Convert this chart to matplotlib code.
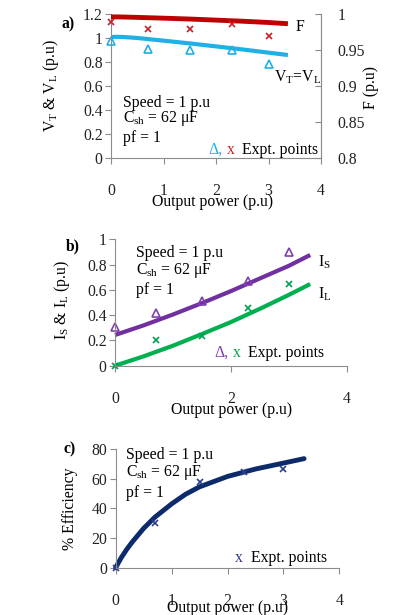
import matplotlib
matplotlib.use("Agg")
import matplotlib.pyplot as plt
from matplotlib.ticker import FormatStrFormatter

plt.rcParams['font.family'] = ['Liberation Serif', 'DejaVu Serif']
plt.rcParams['mathtext.fontset'] = 'custom'
plt.rcParams['mathtext.rm'] = 'Liberation Serif'
plt.rcParams['mathtext.it'] = 'Liberation Serif:italic'
plt.rcParams['font.size'] = 11.3

# ---- data ----
# a) terminal/load voltage and frequency
a_curve_x = [0, 0.1, 0.25, 0.5, 1.0, 1.5, 2.0, 2.5, 3.0, 3.37]
a_vt_curve = [1.008, 1.01, 1.008, 1.0, 0.978, 0.955, 0.93, 0.905, 0.878, 0.858]
a_f_curve = [0.996, 0.996, 0.9958, 0.9953, 0.9942, 0.993, 0.9915, 0.99, 0.9882, 0.9865]
expt_x = [0, 0.7, 1.5, 2.3, 3.0]
a_vt_expt = [0.977, 0.908, 0.90, 0.90, 0.783]
a_f_expt = [0.989, 0.979, 0.979, 0.986, 0.970]

# b) source and load currents
b_curve_x = [0, 0.5, 1.0, 1.5, 2.0, 2.5, 3.0, 3.37]
b_is_curve = [0.243, 0.32, 0.405, 0.495, 0.59, 0.69, 0.79, 0.876]
b_il_curve = [0.0, 0.075, 0.158, 0.25, 0.345, 0.45, 0.56, 0.646]
b_is_expt = [0.304, 0.42, 0.51, 0.67, 0.90]
b_il_expt = [0.0, 0.203, 0.237, 0.454, 0.646]

# c) efficiency
c_curve_x = [0, 0.05, 0.1, 0.2, 0.3, 0.5, 0.7, 1.0, 1.25, 1.5, 2.0, 2.5, 3.0, 3.37]
c_eff_curve = [0, 3.5, 6.8, 12.5, 17.5, 26.5, 34, 43, 49.5, 54.5, 61.5, 66.5, 70.5, 73.5]
c_eff_expt = [0, 30.3, 58, 64.3, 66.7]

W, H = 397, 615
fig = plt.figure(figsize=(W / 100, H / 100), dpi=100)


def px_axes(l, t, r, b):
    return fig.add_axes([l / W, 1 - b / H, (r - l) / W, (b - t) / H])


def ftext(x, y, s, **kw):
    fig.text(x / W, 1 - y / H, s, va='center', **kw)


GRAY = '#8c8c8c'


def style(ax, right=False):
    ax.spines['top'].set_visible(False)
    ax.spines['right'].set_visible(right)
    for s in ax.spines.values():
        s.set_color(GRAY)
    ax.tick_params(axis='both', colors=GRAY, labelcolor='#222222', length=4, direction='out')
    ax.tick_params(axis='x', pad=14)
    ax.tick_params(axis='y', pad=2)
    ax.yaxis.set_major_formatter(FormatStrFormatter('%g'))
    ax.set_xlim(0, 4)


# ---------- a) ----------
ax1 = px_axes(111, 14, 321, 158)
style(ax1, right=True)
ax1.set_ylim(0, 1.2)
ax1.set_yticks([0, 0.2, 0.4, 0.6, 0.8, 1.0, 1.2])
ax1.set_xticks([0, 1, 2, 3, 4])
ax1.plot(a_curve_x, a_vt_curve, color='#1fb0e6', lw=3, solid_capstyle='butt', clip_on=False)
ax1.plot(expt_x, a_vt_expt, linestyle='none', marker='^', mfc='none', mec='#1fb0e6', ms=6, mew=1.2,
         clip_on=False)
ax1.set_ylabel('V$_{\\rm T}$ & V$_{\\rm L}$ (p.u)')
ax1.yaxis.set_label_coords(-0.24, 0.5)
ax1.set_xlabel('Output power (p.u)')
ax1.xaxis.set_label_coords(0.486, -0.25)

ax1r = ax1.twinx()
ax1r.set_ylim(0.8, 1.0)
ax1r.set_yticks([0.8, 0.85, 0.9, 0.95, 1.0])
ax1r.yaxis.set_major_formatter(FormatStrFormatter('%g'))
ax1r.spines['top'].set_visible(False)
ax1r.spines['left'].set_visible(False)
ax1r.spines['bottom'].set_visible(False)
ax1r.spines['right'].set_color(GRAY)
ax1r.tick_params(axis='y', colors=GRAY, labelcolor='#222222', length=4, direction='in', pad=12)
ax1r.plot(a_curve_x, a_f_curve, color='#c00000', lw=3.5, solid_capstyle='butt', clip_on=False)
ax1r.plot(expt_x, a_f_expt, linestyle='none', marker='x', color='#c8202a', ms=5, mew=1.2,
          clip_on=False)
ax1r.set_ylabel('F (p.u)')
ax1r.yaxis.set_label_coords(1.2, 0.49)

ftext(123, 103, 'Speed = 1 p.u')
ftext(123, 119, 'C$_{\\rm sh}$ = 62 μF')
ftext(123, 138, 'pf = 1')
ftext(296, 27, 'F')
ftext(274, 77, 'V$_{\\rm T}$=V$_{\\rm L}$')
ftext(208, 150, 'Δ,', color='#1fb0e6')
ftext(227, 150, 'x', color='#c8202a')
ftext(242, 150, 'Expt. points')
ftext(62, 24, 'a)', fontweight='bold')

# ---------- b) ----------
ax2 = px_axes(115, 239.3, 346.7, 365.7)
style(ax2)
ax2.set_ylim(0, 1)
ax2.set_yticks([0, 0.2, 0.4, 0.6, 0.8, 1.0])
ax2.set_xticks([0, 2, 4])
ax2.plot(b_curve_x, b_is_curve, color='#7030a0', lw=3, solid_capstyle='butt', clip_on=False)
ax2.plot(b_curve_x, b_il_curve, color='#00b050', lw=3, solid_capstyle='butt', clip_on=False)
ax2.plot(expt_x, b_is_expt, linestyle='none', marker='^', mfc='none', mec='#7f3fb0', ms=6, mew=1.2,
         clip_on=False)
ax2.plot(expt_x, b_il_expt, linestyle='none', marker='x', color='#00a050', ms=5, mew=1.2,
         clip_on=False)
ax2.set_ylabel('I$_{\\rm S}$ & I$_{\\rm L}$ (p.u)')
ax2.yaxis.set_label_coords(-0.185, 0.52)
ax2.set_xlabel('Output power (p.u)')
ax2.xaxis.set_label_coords(0.505, -0.29)

ftext(136, 253, 'Speed = 1 p.u')
ftext(136, 271, 'C$_{\\rm sh}$ = 62 μF')
ftext(136, 290, 'pf = 1')
ftext(318, 262, 'I$_{\\rm S}$')
ftext(318, 294, 'I$_{\\rm L}$')
ftext(214, 353, 'Δ,', color='#7f3fb0')
ftext(233, 353, 'x', color='#00a050')
ftext(248, 353, 'Expt. points')
ftext(66, 246, 'b)', fontweight='bold')

# ---------- c) ----------
ax3 = px_axes(115.7, 449, 339.3, 567.7)
style(ax3)
ax3.set_ylim(0, 80)
ax3.set_yticks([0, 20, 40, 60, 80])
ax3.set_xticks([0, 1, 2, 3, 4])
ax3.plot(c_curve_x, c_eff_curve, color='#0d2a6b', lw=3.5, solid_capstyle='round', clip_on=False)
ax3.plot(expt_x, c_eff_expt, linestyle='none', marker='x', color='#2a3f8a', ms=5, mew=1.2,
         clip_on=False)
ax3.set_ylabel('% Efficiency')
ax3.yaxis.set_label_coords(-0.17, 0.5)
ax3.set_xlabel('Output power (p.u)')
ax3.xaxis.set_label_coords(0.502, -0.275)

ftext(126, 455, 'Speed = 1 p.u')
ftext(126, 473, 'C$_{\\rm sh}$ = 62 μF')
ftext(126, 493, 'pf = 1')
ftext(235, 558, 'x', color='#2a3f8a')
ftext(251, 558, 'Expt. points')
ftext(64, 449, 'c)', fontweight='bold')

fig.savefig('out.png', dpi=100)
